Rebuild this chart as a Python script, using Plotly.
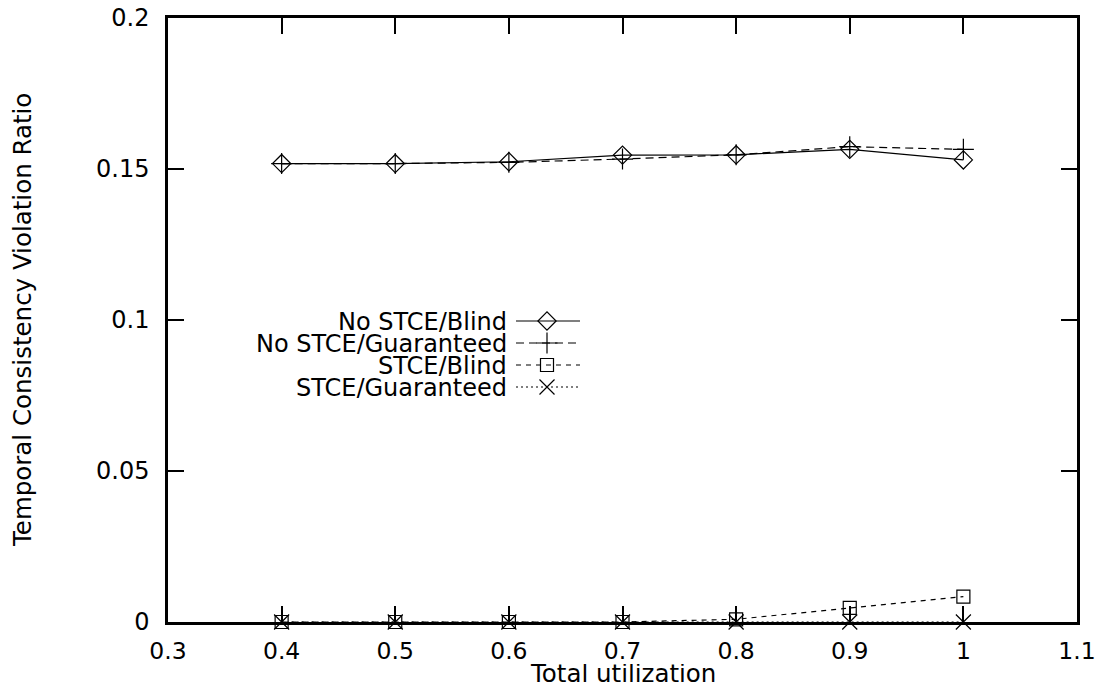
import plotly.graph_objects as go

# ---- data ----
utilization = [0.4, 0.5, 0.6, 0.7, 0.8, 0.9, 1.0]
no_stce_blind = [0.1518, 0.1518, 0.1524, 0.1546, 0.1547, 0.1565, 0.1530]
no_stce_guaranteed = [0.1518, 0.1518, 0.1522, 0.1533, 0.1547, 0.1574, 0.1565]
stce_blind = [0.0, 0.0, 0.0, 0.0, 0.0009, 0.0047, 0.0084]
stce_guaranteed = [0.0, 0.0, 0.0, 0.0, 0.0, 0.0, 0.0]

series_names = ["No STCE/Blind", "No STCE/Guaranteed", "STCE/Blind", "STCE/Guaranteed"]
series_values = [no_stce_blind, no_stce_guaranteed, stce_blind, stce_guaranteed]

x_tickvals = [0.3, 0.4, 0.5, 0.6, 0.7, 0.8, 0.9, 1.0, 1.1]
x_ticktext = ["0.3", "0.4", "0.5", "0.6", "0.7", "0.8", "0.9", "1", "1.1"]
y_tickvals = [0, 0.05, 0.1, 0.15, 0.2]
y_ticktext = ["0", "0.05", "0.1", "0.15", "0.2"]

x_title = "Total utilization"
y_title = "Temporal Consistency Violation Ratio"

# ---- styles ----
symbols = ["diamond-open", "cross-thin-open", "square-open", "x-thin-open"]
sizes = [14, 15, 13, 15]
dashes = ["solid", "8px,5px", "5px,5px", "2px,3px"]

W, H = 1102, 690
L, R, T, B = 168, 25, 18, 68
pw, ph = W - L - R, H - T - B

FONT = "DejaVu Sans, Verdana, sans-serif"


def px_x(p):
    return (p - L) / pw


def px_y(p):
    return (H - B - p) / ph


fig = go.Figure()
for name, vals, sym, sz, dsh in zip(series_names, series_values, symbols, sizes, dashes):
    fig.add_trace(go.Scatter(
        x=utilization, y=vals, name=name, mode="lines+markers",
        line=dict(color="black", width=1.2, dash=dsh),
        marker=dict(symbol=sym, size=sz, color="black",
                    line=dict(color="black", width=1.2)),
        cliponaxis=False, showlegend=False,
    ))

# ---- custom legend (text right-aligned, sample to the right) ----
leg_text_right = 508
leg_line_x0, leg_line_x1, leg_marker_x = 516, 580, 547
leg_rows = [321, 343, 365, 387]

for name, sym, sz, dsh, row in zip(series_names, symbols, sizes, dashes, leg_rows):
    fig.add_annotation(x=px_x(leg_text_right), y=px_y(row), xref="paper", yref="paper",
                       text=name, showarrow=False, xanchor="right", yanchor="middle",
                       height=21, borderpad=0,
                       font=dict(family=FONT, size=24, color="black"))
    fig.add_trace(go.Scatter(
        x=[px_x(leg_line_x0), px_x(leg_line_x1)], y=[px_y(row), px_y(row)],
        xaxis="x2", yaxis="y2", mode="lines",
        line=dict(color="black", width=1.2, dash=dsh),
        showlegend=False, hoverinfo="skip"))
    fig.add_trace(go.Scatter(
        x=[px_x(leg_marker_x)], y=[px_y(row)], xaxis="x2", yaxis="y2", mode="markers",
        marker=dict(symbol=sym, size=sz, color="black", line=dict(color="black", width=1.2)),
        showlegend=False, hoverinfo="skip"))

# ---- axis titles ----
fig.add_annotation(x=0.5, y=px_y(673), xref="paper", yref="paper", text=x_title,
                   showarrow=False, xanchor="center", yanchor="middle",
                   height=19, borderpad=0,
                   font=dict(family=FONT, size=24.5, color="black"))
fig.add_annotation(x=px_x(22), y=0.5, xref="paper", yref="paper", text=y_title,
                   textangle=-90, showarrow=False, xanchor="center", yanchor="middle",
                   font=dict(family=FONT, size=24.5, color="black"))

fig.update_layout(
    width=W, height=H,
    margin=dict(l=L, r=R, t=T, b=B, autoexpand=False),
    paper_bgcolor="white", plot_bgcolor="white",
    showlegend=False,
    # axes carrying the labels (transparent outside ticks push labels away)
    xaxis=dict(
        range=[0.3, 1.1], tickmode="array", tickvals=x_tickvals, ticktext=x_ticktext,
        ticks="outside", ticklen=6, tickcolor="rgba(0,0,0,0)",
        showline=True, linecolor="black", linewidth=2.5, mirror=True,
        showgrid=False, zeroline=False, automargin=False,
        tickfont=dict(family=FONT, size=23.5, color="black"),
    ),
    yaxis=dict(
        range=[0, 0.2], tickmode="array", tickvals=y_tickvals, ticktext=y_ticktext,
        ticks="outside", ticklen=11, tickcolor="rgba(0,0,0,0)",
        showline=True, linecolor="black", linewidth=2.5, mirror=True,
        showgrid=False, zeroline=False, automargin=False,
        tickfont=dict(family=FONT, size=24, color="black"),
    ),
    # axes drawing the inside ticks on all four sides
    xaxis3=dict(
        overlaying="x", range=[0.3, 1.1], tickmode="array", tickvals=x_tickvals,
        ticks="inside", ticklen=16, tickwidth=1.5, tickcolor="black", mirror="ticks",
        showline=False, showgrid=False, zeroline=False, showticklabels=False,
    ),
    yaxis3=dict(
        overlaying="y", range=[0, 0.2], tickmode="array", tickvals=y_tickvals,
        ticks="inside", ticklen=16, tickwidth=1.5, tickcolor="black", mirror="ticks",
        showline=False, showgrid=False, zeroline=False, showticklabels=False,
    ),
    xaxis2=dict(overlaying="x", range=[0, 1], visible=False),
    yaxis2=dict(overlaying="y", range=[0, 1], visible=False),
)

# dummy invisible trace so the tick-only axes are rendered
fig.add_trace(go.Scatter(x=[None], y=[None], xaxis="x3", yaxis="y3",
                         showlegend=False, hoverinfo="skip"))

fig.write_html("out.html", config={"displayModeBar": False},
               post_script="document.body.style.margin='0';")
